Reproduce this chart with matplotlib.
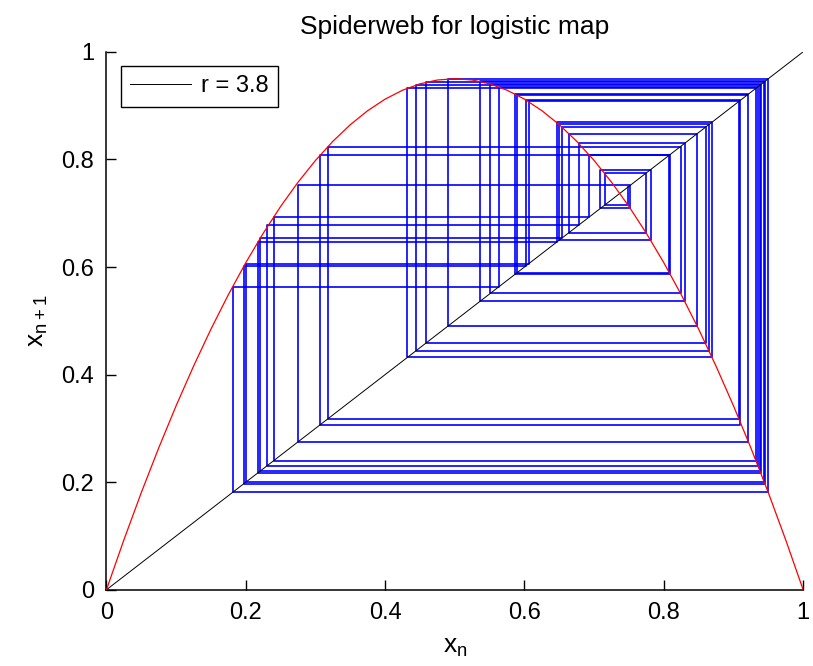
import matplotlib
matplotlib.use("Agg")
import matplotlib.pyplot as plt

orbit = [0.748, 0.716, 0.774, 0.664, 0.848, 0.490, 0.950, 0.181, 0.563, 0.935,
         0.231, 0.678, 0.830, 0.536, 0.945, 0.197, 0.602, 0.910, 0.307, 0.809,
         0.587, 0.921, 0.275, 0.752, 0.709, 0.781, 0.650, 0.865, 0.444, 0.938,
         0.221, 0.654, 0.860, 0.459, 0.944, 0.200, 0.606, 0.908, 0.318, 0.824,
         0.551, 0.940, 0.218, 0.646, 0.869, 0.432, 0.932, 0.240, 0.693, 0.808,
         0.589, 0.920]

# the red parabola, sampled points
curve_x = [0, 0.025, 0.05, 0.075, 0.1, 0.125, 0.15, 0.175, 0.2, 0.225,
           0.25, 0.275, 0.3, 0.325, 0.35, 0.375, 0.4, 0.425, 0.45, 0.475,
           0.5, 0.525, 0.55, 0.575, 0.6, 0.625, 0.65, 0.675, 0.7, 0.725,
           0.75, 0.775, 0.8, 0.825, 0.85, 0.875, 0.9, 0.925, 0.95, 0.975, 1.0]
curve_y = [0, 0.0926, 0.1805, 0.2636, 0.342, 0.4156, 0.4845, 0.5486, 0.608, 0.6626,
           0.7125, 0.7576, 0.798, 0.8336, 0.8645, 0.8906, 0.912, 0.9286, 0.9405, 0.9476,
           0.95, 0.9476, 0.9405, 0.9286, 0.912, 0.8906, 0.8645, 0.8336, 0.798, 0.7576,
           0.7125, 0.6626, 0.608, 0.5486, 0.4845, 0.4156, 0.342, 0.2636, 0.1805, 0.0926, 0]

diag = [0, 1]
ticks = [0, 0.2, 0.4, 0.6, 0.8, 1]
tick_labels = ["0", "0.2", "0.4", "0.6", "0.8", "1"]

plt.rcParams['font.family'] = ['Liberation Sans', 'DejaVu Sans']

fig = plt.figure(figsize=(8.13, 6.66), dpi=100)
ax = fig.add_axes([0.1309, 0.1144, 0.857, 0.8078])

# cobweb path: up/down to the curve, across to the diagonal
web_x = [orbit[0]]
web_y = [orbit[0]]
for a, b in zip(orbit[:-1], orbit[1:]):
    web_x += [a, b]
    web_y += [b, b]

ax.plot(diag, diag, color='black', lw=0.7, label='r = 3.8', zorder=3)
ax.plot(web_x, web_y, color='blue', lw=1.2, zorder=2)
ax.plot(curve_x, curve_y, color='red', lw=0.9, zorder=4)

ax.set_xlim(0, 1)
ax.set_ylim(0, 1)
ax.set_xticks(ticks)
ax.set_xticklabels(tick_labels)
ax.set_yticks(ticks)
ax.set_yticklabels(tick_labels)
ax.tick_params(direction='in', length=7, width=1, labelsize=17, pad=9)
for side in ['top', 'right']:
    ax.spines[side].set_visible(False)
for side in ['left', 'bottom']:
    ax.spines[side].set_linewidth(1.1)

ax.set_xlabel(r"$\mathregular{x_n}$", fontsize=19, labelpad=8)
ax.set_ylabel(r"$\mathregular{x_{n+1}}$", fontsize=19, labelpad=8)
ax.set_title("Spiderweb for logistic map", fontsize=19, pad=13)

leg = ax.legend(loc='upper left', fontsize=17, fancybox=False, framealpha=1,
                edgecolor='black', handlelength=2.6, handletextpad=0.4,
                borderaxespad=0.6)
leg.get_frame().set_linewidth(1.0)

fig.savefig("out.png", dpi=100)
